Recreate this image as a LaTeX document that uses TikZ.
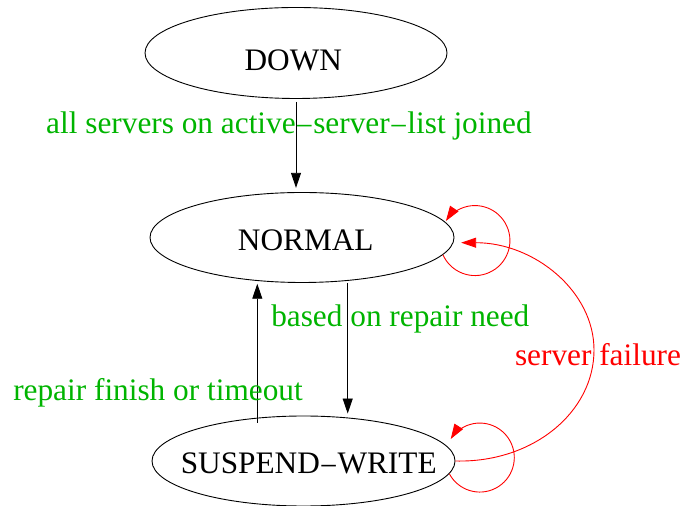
\documentclass[tikz,border=0pt]{standalone}
\usepackage{fontspec}
\setmainfont{Liberation Serif}
\usetikzlibrary{shapes.geometric,arrows.meta}
\definecolor{labelgreen}{RGB}{0,180,0}
% a minus sign sitting a little lower, as in the Times hyphen
\newcommand{\lowdash}{\raisebox{-3pt}{−}}
\begin{document}
\begin{tikzpicture}[x=1pt,y=1pt,
  state/.style={draw, ellipse, line width=0.9pt, inner sep=0pt},
  big/.style={font=\fontsize{31.3pt}{36pt}\selectfont, inner sep=0pt},
  statetext/.style={big, anchor=base},
  edgelabel/.style={big, anchor=base, text=labelgreen},
  failurelabel/.style={big, anchor=base, text=red},
  arr/.style={line width=0.9pt, -{Triangle[length=15pt,width=10pt]}},
  redarr/.style={arr, red}]
\useasboundingbox (0,0) rectangle (684,505);

% states
\node[state, minimum width=302pt, minimum height=91pt] (down) at (296,452) {};
\node[statetext] (downtext) at ([xshift=-2.7pt,yshift=-17.7pt]down.center) {DOWN};
\node[state, minimum width=304pt, minimum height=90pt] (normal) at (302,267.5) {};
\node[statetext] (normaltext) at ([xshift=3.8pt,yshift=-13.5pt]normal.center) {NORMAL};
\node[state, minimum width=303pt, minimum height=90pt] (sw) at (303.5,44) {};
\node[statetext] (swtext) at ([xshift=5.2pt,yshift=-13pt]sw.center) {SUSPEND\lowdash WRITE};

% transitions
\draw[arr, shorten <=3pt, shorten >=4.2pt] (down.south) -- (down.south |- normal.north);
\coordinate (nsx) at ([xshift=45.7pt]normal.south);
\draw[arr, shorten >=2pt] (nsx) -- (nsx |- sw.north);
\coordinate (swx) at ([xshift=-46.2pt,yshift=-7pt]sw.north);
\draw[arr, shorten >=0.8pt] (swx) -- (swx |- normal.south);

% server failure loops
\draw[redarr] (normal.-7) arc[start angle=204, end angle=506, radius=35pt];
\draw[redarr] (sw.-5.5) arc[start angle=208, end angle=507.5, radius=34.5pt];
\draw[redarr] (sw.east) .. controls (532.6,42) and (594,92.6) .. (594,155)
  .. controls (594,214) and (534,262.3) .. ([xshift=6.7pt,yshift=-5.2pt]normal.east);

% labels
\node[edgelabel] (joined) at (289,371.7) {all servers on active\lowdash server\lowdash list joined};
\node[edgelabel] (need) at (400.3,178) {based on repair need};
\node[edgelabel] (finish) at (158,104.1) {repair finish or timeout};
\node[failurelabel] (failure) at (598,139.5) {server failure};
\end{tikzpicture}
\end{document}
